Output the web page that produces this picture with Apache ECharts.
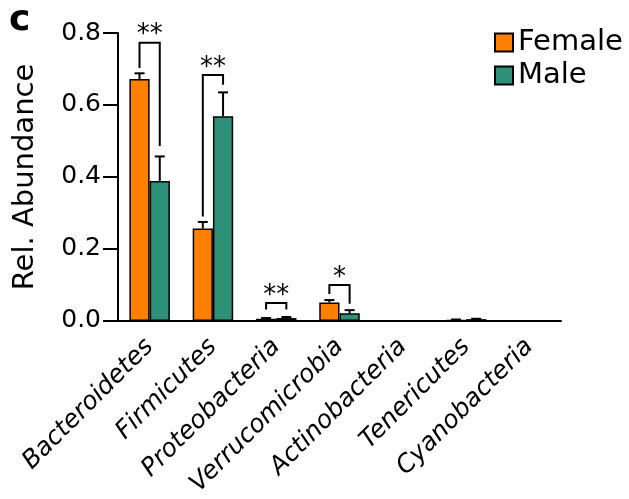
<!DOCTYPE html>
<html>
<head>
<meta charset="utf-8">
<script src="https://cdn.jsdelivr.net/npm/echarts@6/dist/echarts.min.js"></script>
<style>
  html, body { margin: 0; padding: 0; background: #fff; }
  #chart { width: 629px; height: 499px; }
</style>
</head>
<body>
<div id="chart"></div>
<script>
// Phylum-level relative abundance by sex (mean + SEM)
const categories = ['Bacteroidetes', 'Firmicutes', 'Proteobacteria', 'Verrucomicrobia',
                    'Actinobacteria', 'Tenericutes', 'Cyanobacteria'];
const femaleMean = [0.672, 0.257, 0.006, 0.051, 0, 0.003, 0];
const femaleErr  = [0.016, 0.018, 0.002, 0.007, 0, 0.001, 0];
const maleMean   = [0.389, 0.569, 0.008, 0.021, 0, 0.005, 0];
const maleErr    = [0.068, 0.066, 0.003, 0.009, 0, 0.001, 0];

// Significance brackets: category, bracket height, foot over female bar, foot over male bar
const sigCategory  = [0, 1, 2, 3];
const sigTop       = [0.773, 0.683, 0.050, 0.100];
const sigFootLeft  = [0.703, 0.290, 0.032, 0.075];
const sigFootRight = [0.486, 0.656, 0.032, 0.048];
const sigMarks     = ['**', '**', '**', '*'];

const FONT = 'DejaVu Sans';
const ORANGE = '#FF7F00';
const TEAL = '#2F9078';
const BAR_FRACTION = 0.32;

const chart = echarts.init(document.getElementById('chart'), null, { renderer: 'canvas' });

function errorBars(sign) {
  return function (params, api) {
    const idx = api.value(0);
    const mean = api.value(1);
    const err = api.value(2);
    if (!err) return { type: 'group', children: [] };
    const band = api.size([1, 0])[0];
    const x = api.coord([idx, 0])[0] + sign * band * BAR_FRACTION / 2;
    const yBase = api.coord([idx, mean])[1];
    const yTop = api.coord([idx, mean + err])[1];
    const half = 5;
    const st = { stroke: '#000', lineWidth: 2 };
    return {
      type: 'group',
      children: [
        { type: 'line', shape: { x1: x, y1: yBase, x2: x, y2: yTop }, style: st },
        { type: 'line', shape: { x1: x - half, y1: yTop, x2: x + half, y2: yTop }, style: st }
      ]
    };
  };
}

function brackets(params, api) {
  const idx = api.value(0);
  const top = api.value(1);
  const footL = api.value(2);
  const footR = api.value(3);
  const mark = sigMarks[params.dataIndex];
  const band = api.size([1, 0])[0];
  const cx = api.coord([idx, 0])[0];
  const xL = cx - band * BAR_FRACTION / 2;
  const xR = cx + band * BAR_FRACTION / 2;
  const yTop = api.coord([idx, top])[1];
  const yL = api.coord([idx, footL])[1];
  const yR = api.coord([idx, footR])[1];
  return {
    type: 'group',
    children: [
      {
        type: 'polyline',
        shape: { points: [[xL, yL], [xL, yTop], [xR, yTop], [xR, yR]] },
        style: { stroke: '#000', lineWidth: 2, fill: null }
      },
      {
        type: 'text',
        x: cx,
        y: yTop + 6,
        style: {
          text: mark, fontSize: 26, fontFamily: FONT, fill: '#000',
          align: 'center', verticalAlign: 'bottom'
        }
      }
    ]
  };
}

const option = {
  animation: false,
  title: {
    text: 'c',
    left: 9,
    top: 3,
    padding: 0,
    textStyle: { fontSize: 36, fontWeight: 'bold', fontFamily: FONT, color: '#000' }
  },
  legend: {
    data: ['Female', 'Male'],
    orient: 'vertical',
    left: 494,
    top: 28,
    padding: 0,
    itemWidth: 18,
    itemHeight: 18,
    itemGap: 4,
    icon: 'rect',
    textStyle: { fontSize: 29, fontFamily: FONT, color: '#000', lineHeight: 28 }
  },
  grid: { left: 118, right: 68, top: 33, bottom: 178, containLabel: false },
  xAxis: {
    type: 'category',
    data: categories,
    boundaryGap: true,
    axisLine: { lineStyle: { color: '#000', width: 2 } },
    axisTick: { alignWithLabel: true, length: 13, lineStyle: { color: '#000', width: 2 } },
    axisLabel: {
      rotate: 45,
      interval: 0,
      margin: 22,
      fontSize: 25,
      fontStyle: 'italic',
      fontFamily: FONT,
      color: '#000'
    }
  },
  yAxis: {
    type: 'value',
    min: 0,
    max: 0.8,
    interval: 0.2,
    name: 'Rel. Abundance',
    nameLocation: 'middle',
    nameRotate: 90,
    nameGap: 78,
    nameTextStyle: { fontSize: 29, fontFamily: FONT, color: '#000' },
    splitLine: { show: false },
    axisLine: { show: true, lineStyle: { color: '#000', width: 2 } },
    axisTick: { show: true, length: 15, lineStyle: { color: '#000', width: 2 } },
    axisLabel: {
      margin: 17,
      fontSize: 25,
      fontFamily: FONT,
      color: '#000',
      formatter: v => v.toFixed(1)
    }
  },
  series: [
    {
      name: 'Female',
      type: 'bar',
      data: femaleMean,
      barWidth: (BAR_FRACTION * 100) + '%',
      barGap: '0%',
      itemStyle: { color: ORANGE, borderColor: '#000', borderWidth: 1.5 }
    },
    {
      name: 'Male',
      type: 'bar',
      data: maleMean,
      barWidth: (BAR_FRACTION * 100) + '%',
      barGap: '0%',
      itemStyle: { color: TEAL, borderColor: '#000', borderWidth: 1.5 }
    },
    {
      type: 'custom',
      renderItem: errorBars(-1),
      data: femaleMean.map((m, i) => [i, m, femaleErr[i]]),
      z: 5
    },
    {
      type: 'custom',
      renderItem: errorBars(1),
      data: maleMean.map((m, i) => [i, m, maleErr[i]]),
      z: 5
    },
    {
      type: 'custom',
      renderItem: brackets,
      data: sigCategory.map((c, i) => [c, sigTop[i], sigFootLeft[i], sigFootRight[i]]),
      z: 6
    }
  ]
};

chart.setOption(option);
</script>
</body>
</html>
